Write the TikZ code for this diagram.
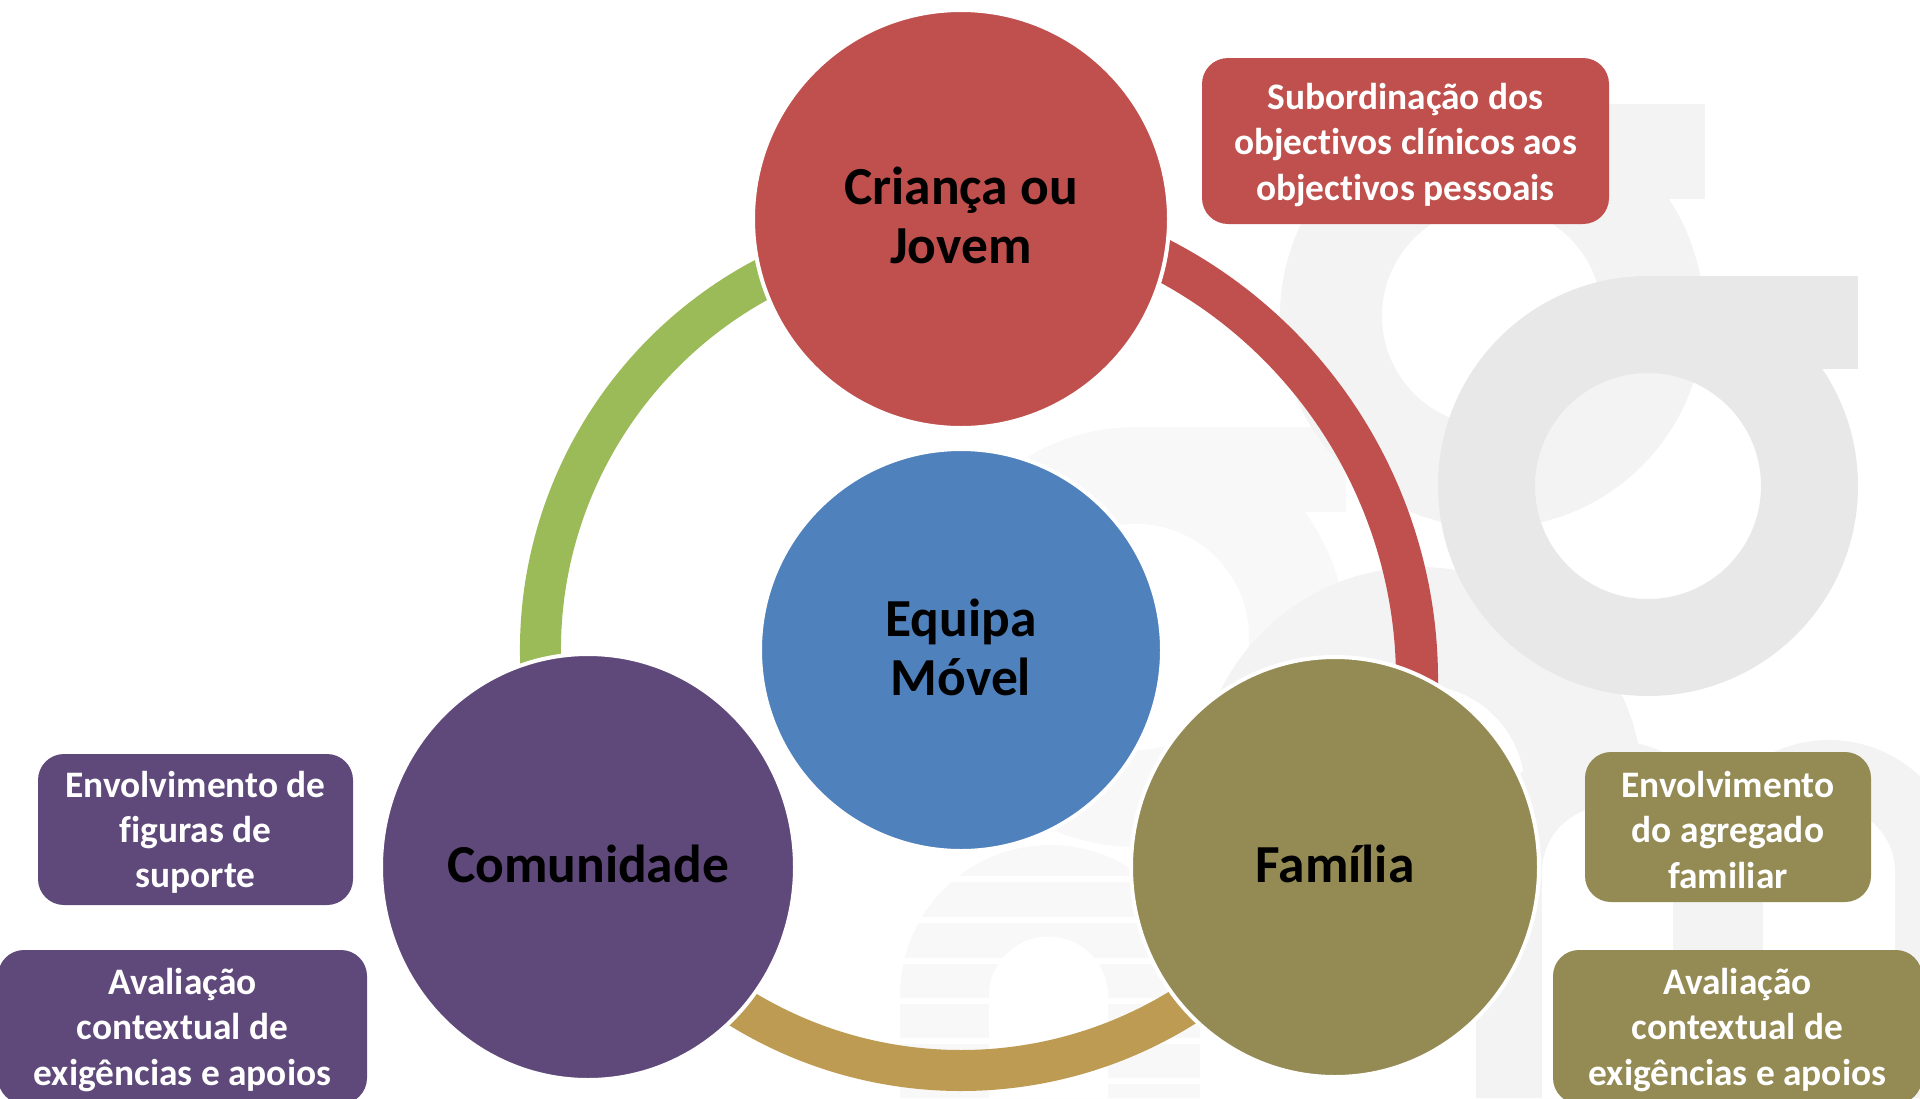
\documentclass[tikz,border=0pt]{standalone}
\usepackage{fontspec}
\setmainfont{Carlito}[Ligatures=NoCommon]
\usepackage{tikz}
\usetikzlibrary{positioning,shapes.geometric}
\definecolor{critred}{HTML}{C0504D}
\definecolor{teamblue}{HTML}{4F81BD}
\definecolor{commpurple}{HTML}{5F497A}
\definecolor{famolive}{HTML}{948A54}
\definecolor{ringgreen}{HTML}{9BBB59}
\definecolor{ringgold}{HTML}{BE9B52}
\definecolor{bgdark}{HTML}{E8E8E8}
\definecolor{bgmid}{HTML}{F3F3F3}
\definecolor{bglight}{HTML}{F8F8F8}
\tikzstyle{bigdisk} = [ellipse, draw=white, line width=4pt, inner sep=0pt]
\tikzstyle{disktext} = [align=center, text=black, font=\bfseries\fontsize{53.5}{59}\selectfont]
\tikzstyle{notebox} = [rectangle, rounded corners=26pt, inner sep=0pt]
\tikzstyle{boxtext} = [align=center, text=white, font=\bfseries\fontsize{37.4}{45.3}\selectfont]
\tikzstyle{ring} = [line width=41pt]

\begin{document}
\begin{tikzpicture}[x=1pt, y=-1pt]
    \useasboundingbox (0,0) rectangle (1920,1098);
    \clip (0,0) rectangle (1920,1098);
    % Background marks
    \fill[bglight, even odd rule] (1136,637) circle[radius=210] (1136,637) circle[radius=113];
    \fill[bglight] (1136,427) rectangle (1346,512);
    \fill[bgmid, even odd rule] (1492,316) circle[radius=212] (1492,316) circle[radius=110];
    \fill[bgmid] (1492,104) rectangle (1705,199);
    \fill[bgmid, even odd rule] (1420,790) circle[radius=223] (1420,790) circle[radius=105];
    \fill[bgmid] (1476,1098) -- (1476,872) arc[start angle=180, end angle=360, radius=132] -- (1740,1098) -- cycle;
    \fill[bgmid] (1697,1098) -- (1697,872) arc[start angle=180, end angle=360, radius=132] -- (1961,1098) -- cycle;
    \fill[white] (1542,1098) -- (1542,872) arc[start angle=180, end angle=360, radius=65.5] -- (1673,1098) -- cycle;
    \fill[white] (1763,1098) -- (1763,872) arc[start angle=180, end angle=360, radius=66] -- (1895,1098) -- cycle;
    \fill[bgdark, even odd rule] (1648,486) circle[radius=210] (1648,486) circle[radius=113];
    \fill[bgdark] (1648,276) rectangle (1858,369);
    \fill[bglight] (900,1098) -- (900,995) arc[start angle=180, end angle=360, radius=150] -- (1200,1098) -- cycle;
    \fill[white] (989,1098) -- (989,996) arc[start angle=180, end angle=360, radius=59.5] -- (1108,1098) -- cycle;
    \foreach \y in {876,917,958,998,1038,1078}
        \fill[white] (900,\y) rectangle (1200,\y+6);

    % Rings
    \coordinate (hub) at (961,650);
    \coordinate (hubred) at (943,680);
    \draw[ring, ringgreen] (hub) ++(-105:420.5) arc[start angle=-105, end angle=-190, radius=420.5];
    \draw[ring, ringgold] (hub) ++(-232:420.5) arc[start angle=-232, end angle=-308, radius=420.5];
    \draw[ring, critred, line width=42pt] (hubred) ++(-70:474) arc[start angle=-70, end angle=8, radius=474];

    % Blocks
    \node[bigdisk, fill=critred, minimum width=416, minimum height=418,
      label={[disktext, yshift=4pt]center:{Criança ou\\Jovem}}] (crianca) at (961,219) {};
    \node[bigdisk, fill=teamblue, minimum width=402, minimum height=402,
      label={[disktext, yshift=3pt]center:{Equipa\\Móvel}}] (equipa) at (961,650) {};
    \node[bigdisk, fill=commpurple, minimum width=414, minimum height=426,
      label={[disktext, yshift=3pt]center:Comunidade}] (comunidade) at (588,867) {};
    \node[bigdisk, fill=famolive, minimum width=408, minimum height=420,
      label={[disktext, yshift=3pt]center:Família}] (familia) at (1335,867) {};

    % Notes
    \node[notebox, fill=critred, minimum width=407, minimum height=166,
      label={[boxtext, yshift=-4pt]center:{Subordinação dos\\objectivos clínicos aos\\objectivos pessoais}}]
      (subord) at (1405.5,141) {};
    \node[notebox, fill=commpurple, minimum width=315, minimum height=151,
      label={[boxtext, yshift=-3pt]center:{Envolvimento de\\figuras de\\suporte}}]
      (suporte) at (195.5,829.5) {};
    \node[notebox, fill=commpurple, minimum width=369, minimum height=154,
      label={[boxtext, yshift=-3pt]center:{Avaliação\\contextual de\\exigências e apoios}}]
      (avalcom) at (182.5,1027) {};
    \node[notebox, fill=famolive, minimum width=286, minimum height=150,
      label={[boxtext, yshift=-3pt]center:{Envolvimento\\do agregado\\familiar}}]
      (agregado) at (1728,827) {};
    \node[notebox, fill=famolive, minimum width=369, minimum height=154,
      label={[boxtext, yshift=-3pt]center:{Avaliação\\contextual de\\exigências e apoios}}]
      (avalfam) at (1737.5,1027) {};
\end{tikzpicture}
\end{document}
